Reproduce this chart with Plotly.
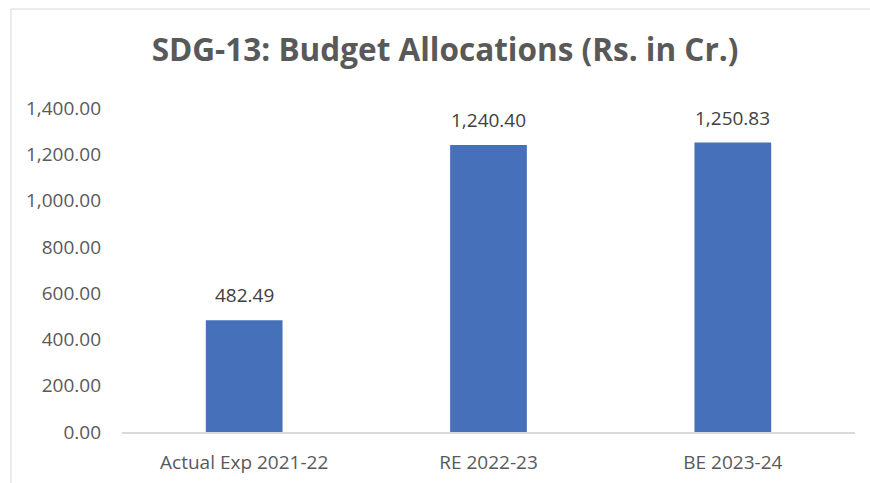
import plotly.graph_objects as go

categories = ["Actual Exp 2021-22", "RE 2022-23", "BE 2023-24"]
values = [482.49, 1240.40, 1250.83]
y_ticks = [0, 200, 400, 600, 800, 1000, 1200, 1400]
title_text = "SDG-13: Budget Allocations (Rs. in Cr.)"

W, H = 870, 483
L, R, T, B = 122, 15, 108, 51
pw, ph = W - L - R, H - T - B

FONT = "Open Sans"
GRAY = "#595959"

fig = go.Figure()
fig.add_trace(go.Bar(
    x=categories, y=values,
    marker=dict(color="#4670B9", line=dict(width=0)),
    width=0.314,
    hoverinfo="skip",
))

for c, v in zip(categories, values):
    fig.add_annotation(
        x=c, y=v, text=f"{v:,.2f}", showarrow=False,
        xref="x", yref="y", yanchor="bottom", yshift=10,
        font=dict(family=FONT, size=19, color="#404040"),
    )

# chart-area border (only top and left edges are inside the crop)
bx0 = (11 - L) / pw
bx1 = (W + 5 - L) / pw
by_top = (H - B - 9) / ph
by_bot = (H - B - (H + 5)) / ph
fig.add_shape(type="line", xref="paper", yref="paper",
              x0=bx0, x1=bx1, y0=by_top, y1=by_top,
              line=dict(color="#d9d9d9", width=1), layer="below")
fig.add_shape(type="line", xref="paper", yref="paper",
              x0=bx0, x1=bx0, y0=by_top, y1=by_bot,
              line=dict(color="#d9d9d9", width=1), layer="below")

fig.update_layout(
    width=W, height=H,
    margin=dict(l=L, r=R, t=T, b=B, pad=0, autoexpand=False),
    paper_bgcolor="white", plot_bgcolor="white",
    showlegend=False,
    title=dict(
        text=f"<b>{title_text}</b>",
        x=445 / W, xanchor="center", xref="container",
        y=1 - 50 / H, yanchor="middle", yref="container",
        font=dict(family=FONT, size=31.5, color=GRAY),
    ),
    xaxis=dict(
        showline=True, linecolor="#d9d9d9", linewidth=2,
        showgrid=False, ticks="", zeroline=False, automargin=False,
        tickfont=dict(family=FONT, size=19, color=GRAY),
        ticklabelstandoff=12,
    ),
    yaxis=dict(
        range=[0, 1400], tickvals=y_ticks,
        ticktext=[f"{t:,.2f}" for t in y_ticks],
        showgrid=False, zeroline=False, showline=False, ticks="",
        automargin=False,
        tickfont=dict(family=FONT, size=19, color=GRAY),
        ticklabelstandoff=20,
    ),
)

fig.write_html(
    "out.html",
    config={"displayModeBar": False},
    post_script="document.body.style.margin='0';document.body.style.overflow='hidden';",
)
